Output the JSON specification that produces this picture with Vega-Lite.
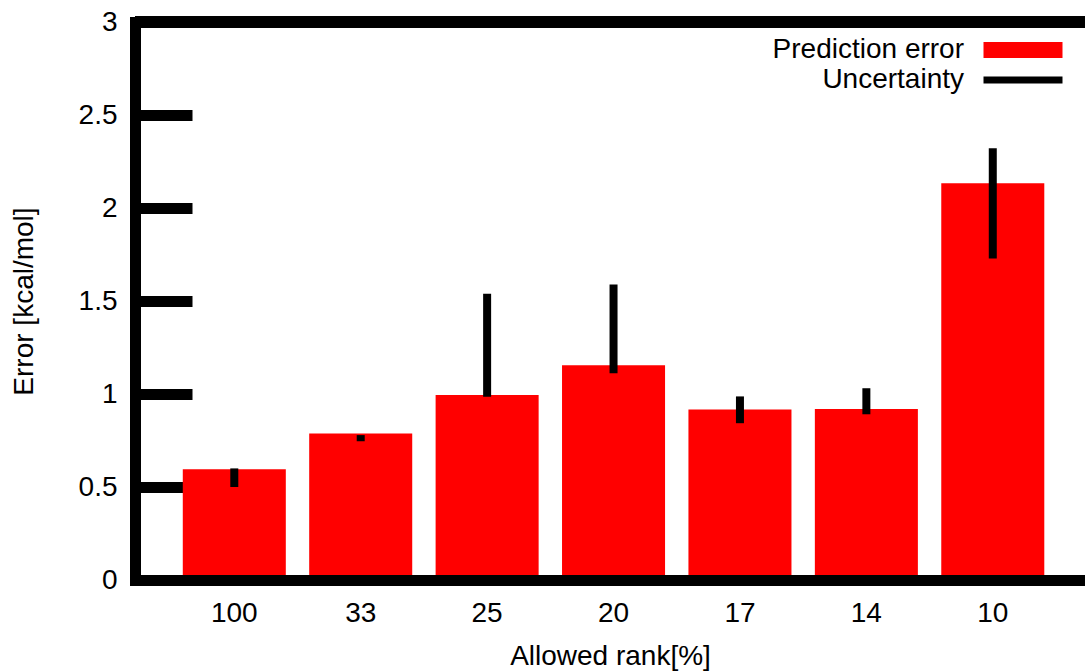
{
  "$schema": "https://vega.github.io/schema/vega-lite/v6.json",
  "width": 950,
  "height": 558,
  "autosize": {"type": "none"},
  "padding": {"left": 135, "top": 22, "right": 0, "bottom": 91},
  "background": "white",
  "config": {
    "view": {"stroke": null},
    "font": "Liberation Sans",
    "axis": {"labelColor": "black", "titleColor": "black", "titleFontWeight": "normal", "labelFontSize": 28, "titleFontSize": 28, "domainColor": "black", "tickColor": "black", "grid": false}
  },
  "data": {
    "values": [
      {"rank": "100", "error": 0.595, "lo": 0.50, "hi": 0.60},
      {"rank": "33", "error": 0.788, "lo": 0.746, "hi": 0.779},
      {"rank": "25", "error": 0.994, "lo": 0.985, "hi": 1.539},
      {"rank": "20", "error": 1.155, "lo": 1.112, "hi": 1.589},
      {"rank": "17", "error": 0.917, "lo": 0.843, "hi": 0.987},
      {"rank": "14", "error": 0.920, "lo": 0.891, "hi": 1.031},
      {"rank": "10", "error": 2.133, "lo": 1.728, "hi": 2.321}
    ]
  },
  "layer": [
    {
      "mark": {"type": "bar", "color": "#ff0000"},
      "encoding": {
        "x": {
          "field": "rank", "type": "nominal", "sort": null,
          "scale": {"paddingInner": 0.185, "paddingOuter": 0.35, "align": 0.54},
          "axis": {"title": "Allowed rank[%]", "labelAngle": 0, "ticks": false, "domainWidth": 11, "domainCap": "square", "labelPadding": 19, "titlePadding": 15, "zindex": 1}
        },
        "y": {
          "field": "error", "type": "quantitative",
          "scale": {"domain": [0, 3], "nice": false},
          "axis": {"title": "Error [kcal/mol]", "values": [0, 0.5, 1, 1.5, 2, 2.5, 3], "format": "~g", "tickSize": -57, "tickWidth": 11, "tickCap": "butt", "domainWidth": 11, "domainCap": "square", "labelPadding": 75, "titlePadding": 40, "zindex": 0}
        },
        "color": {
          "datum": "Prediction error",
          "type": "nominal",
          "scale": {"domain": ["Prediction error", "Uncertainty"], "range": ["#ff0000", "#000000"]},
          "legend": {
            "orient": "none", "legendX": 827, "legendY": 14, "title": null, "padding": 0,
            "labelFontSize": 28, "labelColor": "black", "labelAlign": "right", "labelOffset": -73, "labelLimit": 400,
            "symbolOffset": 47, "symbolSize": 390, "symbolStrokeWidth": 0, "rowPadding": 2,
            "encode": {
              "symbols": {
                "update": {
                  "fill": {"scale": "color", "field": "value"},
                  "stroke": {"value": "transparent"},
                  "shape": {"signal": "datum.value === 'Uncertainty' ? 'M-4,-0.35H4V0.35H-4Z' : 'M-4,-0.8H4V0.8H-4Z'"}
                }
              }
            }
          }
        }
      }
    },
    {
      "mark": {"type": "rule", "strokeWidth": 8},
      "encoding": {
        "x": {"field": "rank", "type": "nominal", "sort": null},
        "y": {"field": "lo", "type": "quantitative"},
        "y2": {"field": "hi"},
        "color": {"datum": "Uncertainty", "type": "nominal"}
      }
    },
    {
      "mark": {"type": "rule", "strokeWidth": 11, "color": "black"},
      "encoding": {"y": {"datum": 3, "type": "quantitative"}}
    }
  ]
}
